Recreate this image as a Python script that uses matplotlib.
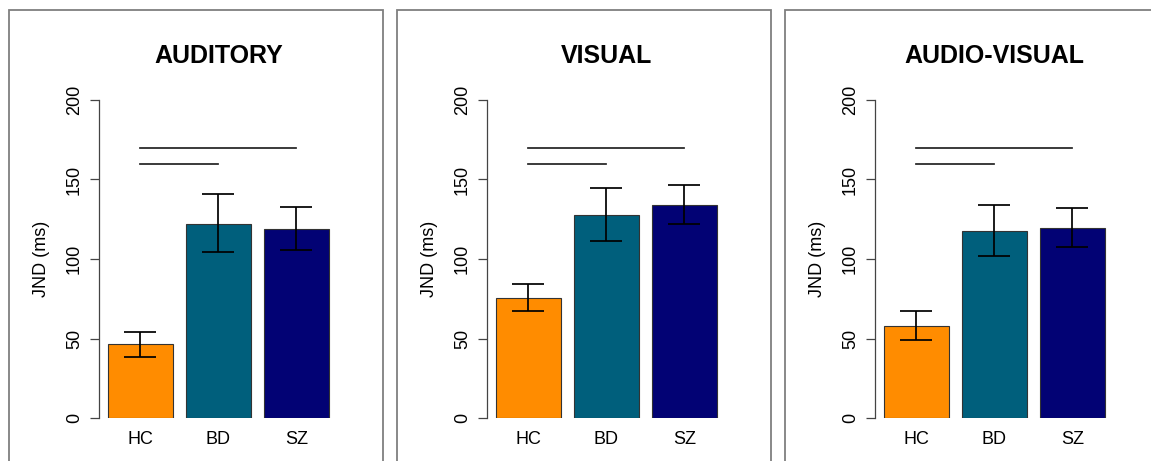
import numpy as np
import matplotlib.pyplot as plt
from matplotlib.patches import Rectangle
from matplotlib.transforms import blended_transform_factory

plt.rcParams['font.family'] = ['Liberation Sans', 'DejaVu Sans']

# JND means and error limits for each modality
groups = ['HC', 'BD', 'SZ']
titles = ['AUDITORY', 'VISUAL', 'AUDIO-VISUAL']
means = [[46.5, 122.2, 119.1],
         [75.7, 127.9, 134.2],
         [58.1, 117.8, 119.7]]
err_lo = [[38.6, 104.2, 105.9],
          [67.1, 111.3, 122.0],
          [49.1, 101.7, 107.5]]
err_hi = [[54.3, 140.9, 132.9],
          [84.3, 144.7, 146.3],
          [67.3, 134.2, 131.9]]
# significance bars: (from group, to group, height)
sig_pairs = [(0, 1, 160), (0, 2, 170)]
yticks = [0, 50, 100, 150, 200]

colors = ['#FF8C00', '#005F7C', '#020274']

W, H = 1151, 461
fig = plt.figure(figsize=(W / 100, H / 100), dpi=100)

x = np.arange(len(groups))
bar_w = 65 / 78

for i in range(3):
    off = 388 * i
    # panel frame
    fig.add_artist(Rectangle(((9 + off) / W, -0.1), 374 / W, 0.1 + (H - 10) / H,
                             transform=fig.transFigure, fill=False,
                             edgecolor='#7f7f7f', lw=1.3))

    ax = fig.add_axes([(99 + off) / W, 43 / H, 241 / W, 318 / H])
    ax.bar(x, means[i], width=bar_w, color=colors, edgecolor='#333333', lw=0.8)

    lo = np.array(means[i]) - np.array(err_lo[i])
    hi = np.array(err_hi[i]) - np.array(means[i])
    ax.errorbar(x, means[i], yerr=[lo, hi], fmt='none', ecolor='black',
                elinewidth=1.25, capsize=11.5, capthick=1.25)

    for a, b, h in sig_pairs:
        ax.plot([x[a], x[b]], [h, h], color='#222222', lw=1.25)

    ax.set_xlim(-0.532, 2.558)
    ax.set_ylim(0, 200)
    for s in ['top', 'right', 'bottom']:
        ax.spines[s].set_visible(False)
    ax.spines['left'].set_bounds(0, 200)
    ax.spines['left'].set_color('#444444')
    ax.spines['left'].set_linewidth(0.9)

    ax.set_yticks(yticks)
    ax.tick_params(axis='y', length=6.5, width=0.9, color='#444444',
                   labelsize=13, pad=5, labelrotation=90)
    for lab in ax.get_yticklabels():
        lab.set_va('center')
    ax.set_xticks(x)
    ax.set_xticklabels(groups)
    ax.tick_params(axis='x', length=0, labelsize=13, pad=9)

    ax.set_ylabel('JND (ms)', fontsize=13)
    ax.yaxis.set_label_coords(-0.205, 0.5)

    tr = blended_transform_factory(ax.transData, fig.transFigure)
    ax.text(1, (H - 56) / H, titles[i], transform=tr, ha='center', va='center',
            fontsize=18, fontweight='bold')

fig.savefig('out.png', dpi=100)
